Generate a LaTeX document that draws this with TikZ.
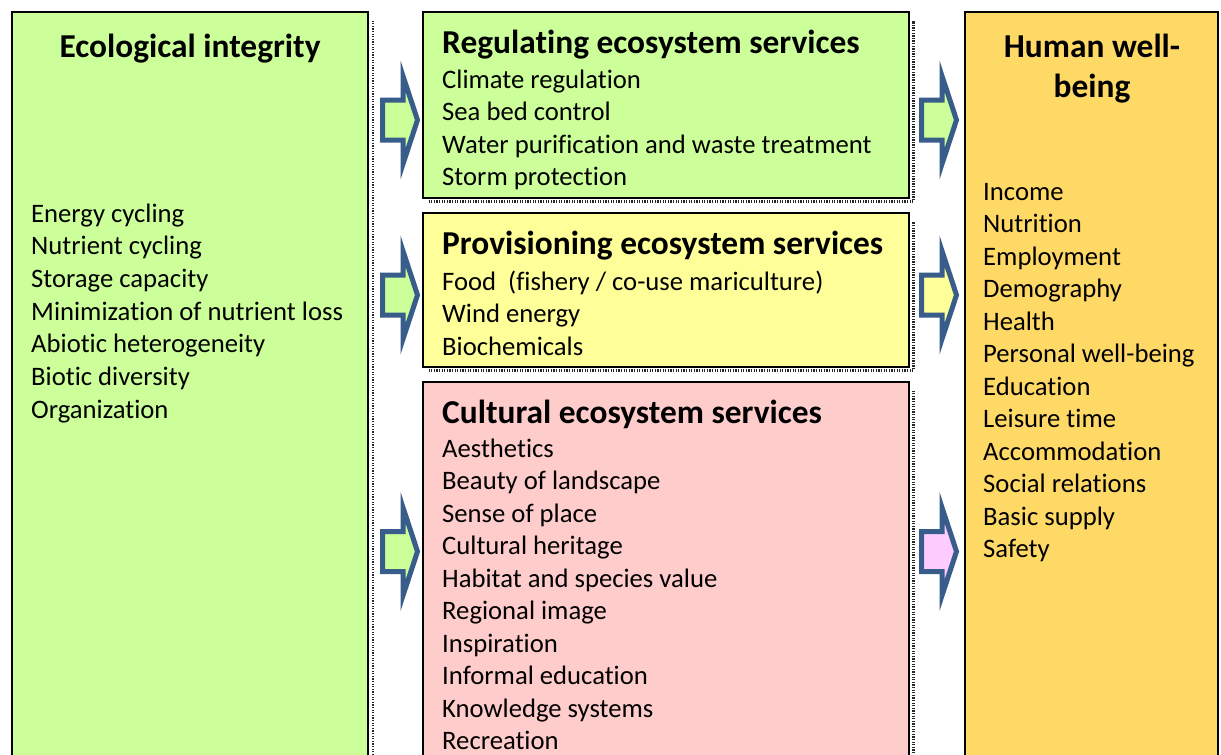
\documentclass[tikz,border=0pt]{standalone}
\usepackage{fontspec}
\setmainfont{Carlito}[Ligatures=NoCommon]
\usetikzlibrary{calc}
\definecolor{ecogreen}{HTML}{CCFF99}
\definecolor{provyellow}{HTML}{FFFF99}
\definecolor{cultpink}{HTML}{FFCCCC}
\definecolor{humanorange}{HTML}{FFD966}
\definecolor{arrowpink}{HTML}{FFCCFF}
\definecolor{arrowblue}{HTML}{385D8A}
\tikzset{
  box/.style={draw=black, line width=2pt, rectangle, anchor=north west, inner sep=0pt, outer sep=0pt},
  shadowline/.style={draw=black!85, line width=2.5pt, dash pattern=on 1.3pt off 1.3pt},
  body/.style={anchor=base west, inner sep=0pt, font=\fontsize{26.67pt}{32pt}\selectfont},
  ttl/.style={anchor=base west, inner sep=0pt, font=\fontsize{33.4pt}{38pt}\selectfont\bfseries},
  ttlc/.style={ttl, anchor=base},
  blockarrow/.pic={
    \path[pic actions, draw=arrowblue, line width=5pt, line join=miter]
      (0,-20) -- (20.5,-20) -- (20.5,-44) -- (35,0) -- (20.5,44) -- (20.5,20) -- (0,20) -- cycle;
  }
}
\begin{document}
\begin{tikzpicture}[x=1pt,y=-1pt]
\useasboundingbox (0,0) rectangle (1221,755);
\clip (0,0) rectangle (1221,755);
\fill[white] (0,0) rectangle (1221,755);

% boxes
\node[box, fill=ecogreen, minimum width=356pt, minimum height=800pt] (eco) at (12,11.5) {};
\node[box, fill=ecogreen, minimum width=486pt, minimum height=186pt] (reg) at (422.5,11.5) {};
\node[box, fill=provyellow, minimum width=486pt, minimum height=154pt] (prov) at (422.5,212.5) {};
\node[box, fill=cultpink, minimum width=486pt, minimum height=500pt] (cult) at (422.5,381.5) {};
\node[box, fill=humanorange, minimum width=253pt, minimum height=800pt] (human) at (965,11.5) {};

% shadows
\draw[shadowline] ($(eco.north east)+(5,9)$) -- ($(eco.south east)+(5,0)$);
\draw[shadowline] ($(reg.south west)+(6,4)$) -- ($(reg.south east)+(5,4)$) -- ($(reg.north east)+(5,9)$);
\draw[shadowline] ($(prov.south west)+(6,4)$) -- ($(prov.south east)+(5,4)$) -- ($(prov.north east)+(5,9)$);
\draw[shadowline] ($(cult.north east)+(5,9)$) -- ($(cult.south east)+(5,0)$);

% arrows
\pic[fill=ecogreen] (a1) at (382.5,120) {blockarrow};
\pic[fill=ecogreen] (a2) at (382.5,295) {blockarrow};
\pic[fill=ecogreen] (a3) at (382.5,551.5) {blockarrow};
\pic[fill=ecogreen] (b1) at (921.5,120) {blockarrow};
\pic[fill=provyellow] (b2) at (921.5,295) {blockarrow};
\pic[fill=arrowpink] (b3) at (921.5,551.5) {blockarrow};

% ecological integrity
\node[ttlc] (ecot) at (190,57) {Ecological integrity};
\node[body] (e1) at (31,222) {Energy cycling};
\node[body] (e2) at (31,254.5) {Nutrient cycling};
\node[body] (e3) at (31,287) {Storage capacity};
\node[body] (e4) at (31,320) {Minimization of nutrient loss};
\node[body] (e5) at (31,352.5) {Abiotic heterogeneity};
\node[body] (e6) at (31,385) {Biotic diversity};
\node[body] (e7) at (31,418) {Organization};

% regulating
\node[ttl] (regt) at (442,53.5) {Regulating ecosystem services};
\node[body] (r1) at (442,88) {Climate regulation};
\node[body] (r2) at (442,120.5) {Sea bed control};
\node[body] (r3) at (442,153) {Water purification and waste treatment};
\node[body] (r4) at (442,185.5) {Storm protection};

% provisioning
\node[ttl] (provt) at (442,254) {Provisioning ecosystem services};
\node[body] (p1) at (442,290) {Food\ \ (fishery / co-use mariculture)};
\node[body] (p2) at (442,322.5) {Wind energy};
\node[body] (p3) at (442,355) {Biochemicals};

% cultural
\node[ttl] (cultt) at (442,423.5) {Cultural ecosystem services};
\node[body] (c1) at (442,457) {Aesthetics};
\node[body] (c2) at (442,489.5) {Beauty of landscape};
\node[body] (c3) at (442,522) {Sense of place};
\node[body] (c4) at (442,554.5) {Cultural heritage};
\node[body] (c5) at (442,587) {Habitat and species value};
\node[body] (c6) at (442,619.5) {Regional image};
\node[body] (c7) at (442,652) {Inspiration};
\node[body] (c8) at (442,684.5) {Informal education};
\node[body] (c9) at (442,717) {Knowledge systems};
\node[body] (c10) at (442,749.5) {Recreation};

% human well-being
\node[ttlc] (hum1) at (1092,57) {Human well-};
\node[ttlc] (hum2) at (1092,97) {being};
\node[body] (h1) at (983,200) {Income};
\node[body] (h2) at (983,232.5) {Nutrition};
\node[body] (h3) at (983,265) {Employment};
\node[body] (h4) at (983,297.5) {Demography};
\node[body] (h5) at (983,330) {Health};
\node[body] (h6) at (983,362.5) {Personal well-being};
\node[body] (h7) at (983,395) {Education};
\node[body] (h8) at (983,427.5) {Leisure time};
\node[body] (h9) at (983,460) {Accommodation};
\node[body] (h10) at (983,492.5) {Social relations};
\node[body] (h11) at (983,525) {Basic supply};
\node[body] (h12) at (983,557.5) {Safety};
\end{tikzpicture}
\end{document}
